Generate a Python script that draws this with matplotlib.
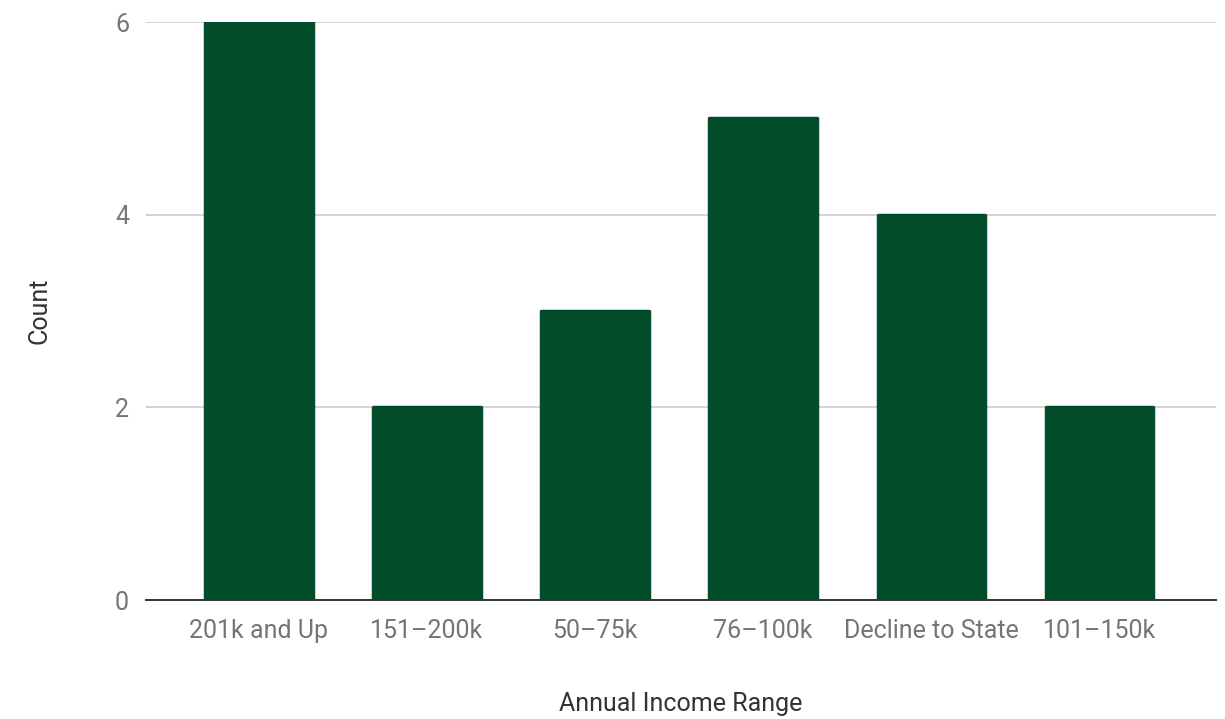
import matplotlib.pyplot as plt

categories = ["201k and Up", "151\u2013200k", "50\u201375k", "76\u2013100k", "Decline to State", "101\u2013150k"]
counts = [6, 2, 3, 5, 4, 2]
y_ticks = [0, 2, 4, 6]

BAR_COLOR = "#014d2a"
TICK_COLOR = "#757575"

plt.rcParams["font.family"] = ["Roboto", "DejaVu Sans"]

fig = plt.figure(figsize=(12.25, 7.19), dpi=100)
ax = fig.add_axes([0.119, 0.1655, 0.874, 0.8039])

x = range(len(categories))
ax.bar(x, counts, width=0.64, color=BAR_COLOR, edgecolor=BAR_COLOR,
       linewidth=2.5, joinstyle="round", zorder=3)

ax.set_xlim(-0.673, 5.696)
ax.set_ylim(0, 6)
ax.set_yticks(y_ticks)
ax.set_xticks(list(x))
ax.set_xticklabels(categories)

ax.grid(axis="y", color="#cccccc", linewidth=1.2, zorder=0)
for side in ("top", "right", "left"):
    ax.spines[side].set_visible(False)
ax.spines["bottom"].set_color("#333333")
ax.spines["bottom"].set_linewidth(1.4)
ax.spines["bottom"].set_zorder(4)
ax.tick_params(axis="both", length=0, labelsize=18, colors=TICK_COLOR)
ax.tick_params(axis="x", pad=14)
ax.tick_params(axis="y", pad=12)

ax.set_xlabel("Annual Income Range", fontsize=18, color="#333333", labelpad=35)
ax.set_ylabel("Count", fontsize=18, color="#333333", labelpad=46)

fig.savefig("out.png", dpi=100)
